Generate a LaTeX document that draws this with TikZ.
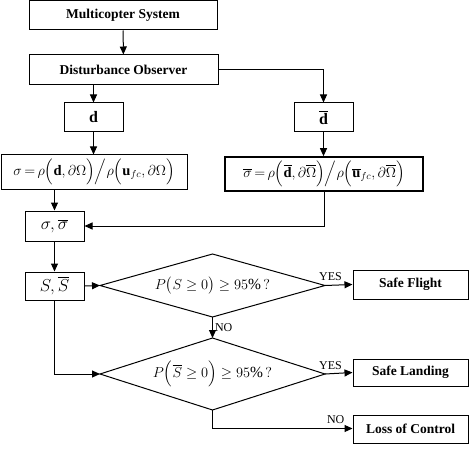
\documentclass[tikz,border=0pt]{standalone}
\usepackage{amsmath}
\usepackage{fontspec}
\setmainfont{Liberation Serif}
\usetikzlibrary{arrows.meta}
\newcommand{\tightsp}{\thickmuskip=3mu plus 1mu\relax\medmuskip=2mu\relax}
\begin{document}
\begin{tikzpicture}[x=1pt,y=-1pt,
  box/.style={draw,line width=1pt,rectangle,inner sep=0pt,font=\fontsize{13.5}{15}\selectfont\bfseries},
  mbox/.style={draw,line width=1pt,rectangle,inner sep=0pt,font=\fontsize{16}{18}\selectfont},
  fbox/.style={draw,line width=1pt,rectangle,inner sep=0pt,font=\fontsize{14.5}{18}\selectfont},
  dtext/.style={inner sep=0pt,font=\fontsize{15.5}{18}\selectfont},
  dline/.style={line width=1pt},
  arr/.style={line width=1pt,-{Triangle[length=8pt,width=7pt]}},
  ln/.style={line width=1pt},
  lab/.style={font=\fontsize{12}{13}\selectfont,inner sep=0pt}]
\useasboundingbox (0,0) rectangle (470,470);
\node[box,minimum width=188pt,minimum height=29pt] (ms) at (123,15.5) {Multicopter System};
\node[box,minimum width=189pt,minimum height=30pt] (do) at (123.5,70) {Disturbance Observer};
\node[box,minimum width=59pt,minimum height=29pt] (d) at (93.5,117.5) {\fontsize{16}{18}\selectfont$\mathbf{d}$};
\node[box,minimum width=59pt,minimum height=29pt] (db) at (323.5,117.5) {\fontsize{16}{18}\selectfont$\overline{\mathbf{d}}$};
\node[fbox,minimum width=186pt,minimum height=34pt] (sig) at (94,172)
  {$\tightsp\sigma=\rho\Bigl(\mathbf{d},\partial\Omega\Bigr)\Big/\rho\Bigl(\mathbf{u}_{fc},\partial\Omega\Bigr)$};
\node[fbox,line width=1.6pt,minimum width=198pt,minimum height=34pt] (sigb) at (324,174)
  {$\tightsp\overline{\sigma}=\rho\Bigl(\overline{\mathbf{d}},\partial\overline{\Omega}\Bigr)\Big/\rho\Bigl(\overline{\mathbf{u}}_{fc},\partial\overline{\Omega}\Bigr)$};
\node[mbox,minimum width=59pt,minimum height=30pt] (ss) at (54.5,226) {$\sigma,\overline{\sigma}$};
\node[mbox,minimum width=59pt,minimum height=28pt] (S) at (54.5,286) {$S,\overline{S}$};
% decision 1
\node[dtext] (dia1) at (212.5,285.5) {$P\bigl(S\geq 0\bigr)\geq 95\%\,?$};
\coordinate (d1n) at (212.5,254);
\coordinate (d1s) at (212.5,317);
\coordinate (d1w) at (100,285.5);
\coordinate (d1e) at (325,285.5);
\draw[dline] (d1n) -- (d1e) -- (d1s) -- (d1w) -- cycle;
% decision 2
\node[dtext] (dia2) at (212.5,374) {$P\Bigl(\overline{S}\geq 0\Bigr)\geq 95\%\,?$};
\coordinate (d2n) at (212.5,338);
\coordinate (d2s) at (212.5,410);
\coordinate (d2w) at (100,374);
\coordinate (d2e) at (325,374);
\draw[dline] (d2n) -- (d2e) -- (d2s) -- (d2w) -- cycle;
\node[box,minimum width=115pt,minimum height=29pt] (sf) at (410.5,284.5) {Safe Flight};
\node[box,minimum width=115pt,minimum height=27pt] (sl) at (410.5,372.5) {Safe Landing};
\node[box,minimum width=115pt,minimum height=28pt] (lc) at (410.5,429) {Loss of Control};
\coordinate (c2) at (212.5,428.5);
\draw[arr] (ms) -- (do);
\draw[arr] (do.east) -| (db.north);
\draw[arr] (d.north |- do.south) -- (d.north);
\draw[arr] (d.south) -- (d.south |- sig.north);
\draw[arr] (db.south) -- (db.south |- sigb.north);
\draw[arr] (ss.north |- sig.south) -- (ss.north);
\draw[arr] (sigb.south) |- (ss.east);
\draw[arr] (ss.south) -- (S.north);
\draw[arr] (S.east) -- (d1w);
\draw[arr] (d1e) -- (sf.west) node[lab,pos=0.2,above=4pt] {YES};
\draw[arr] (d1s) -- (d2n) node[lab,midway,right=2pt] {NO};
\draw[arr] (S.south) |- (d2w);
\draw[arr] (d2e) -- (sl.west) node[lab,pos=0.2,above=4pt] {YES};
\draw[ln] (d2s) -- (c2);
\draw[arr] (c2) -- (c2 -| lc.west) node[lab,pos=0.88,above=4pt] {NO};
\end{tikzpicture}
\end{document}
